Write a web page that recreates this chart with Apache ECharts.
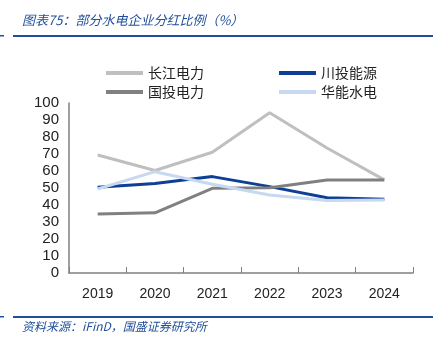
<!DOCTYPE html>
<html>
<head>
<meta charset="utf-8">
<script src="https://cdn.jsdelivr.net/npm/echarts@6/dist/echarts.min.js"></script>
<style>
html,body{margin:0;padding:0;background:#fff;}
#main{width:442px;height:352px;}
</style>
</head>
<body>
<div id="main"></div>
<script>
// 部分水电企业分红比例（%）
var years = ['2019', '2020', '2021', '2022', '2023', '2024'];
var cjdl = [69.4, 60.3, 71, 94.3, 73.5, 54.8];   // 长江电力
var ctny = [50.4, 52.7, 56.7, 50.8, 44.3, 43.4]; // 川投能源
var gtdl = [34.7, 35.4, 49.8, 50.2, 54.7, 54.7]; // 国投电力
var hnsd = [49.4, 59.6, 52.2, 45.9, 42.6, 43.0]; // 华能水电
var yTicks = [0, 10, 20, 30, 40, 50, 60, 70, 80, 90, 100];

var blue = '#1F4E9A';
var myChart = echarts.init(document.getElementById('main'));

function mkSeries(name, data, color){
	return {
		name: name,
		type: 'line',
		data: data,
		symbol: 'none',
		lineStyle: {width: 3, color: color},
		itemStyle: {color: color},
		z: 2
	};
}

var legendText = {fontSize: 14, color: '#222', fontFamily: 'Noto Sans CJK SC'};

var option = {
	animation: false,
	backgroundColor: '#fff',
	grid: {left: 69, right: 29, top: 103, bottom: 79},
	legend: [{
		left: 101, top: 61, orient: 'vertical', itemGap: 5,
		itemWidth: 37, itemHeight: 4,
		icon: 'rect',
		textStyle: legendText,
		data: ['长江电力', '国投电力']
	}, {
		left: 274, top: 61, orient: 'vertical', itemGap: 5,
		itemWidth: 37, itemHeight: 4,
		icon: 'rect',
		textStyle: legendText,
		data: ['川投能源', '华能水电']
	}],
	xAxis: {
		type: 'category',
		data: years,
		boundaryGap: true,
		axisLine: {lineStyle: {color: '#808080', width: 1.5}},
		axisTick: {show: true, inside: true, length: 6, lineStyle: {color: '#808080'}},
		axisLabel: {fontSize: 14, color: '#222', margin: 14, fontFamily: 'Liberation Sans'}
	},
	yAxis: {
		type: 'value',
		min: yTicks[0], max: yTicks[yTicks.length - 1], interval: 10,
		axisLine: {show: true, lineStyle: {color: '#808080', width: 1.5}},
		axisTick: {show: false},
		splitLine: {show: false},
		axisLabel: {fontSize: 15, color: '#222', margin: 10, fontFamily: 'Liberation Sans'}
	},
	graphic: [
		{type: 'text', left: 22, top: 14, style: {text: '图表75：部分水电企业分红比例（%）', fill: blue, font: 'italic 13px "Noto Sans CJK SC"'}},
		{type: 'rect', shape: {x: 0, y: 35, width: 4, height: 1.5}, style: {fill: blue}},
		{type: 'rect', shape: {x: 13, y: 35, width: 420, height: 2}, style: {fill: blue}},
		{type: 'rect', shape: {x: 0, y: 316, width: 4, height: 1.5}, style: {fill: blue}},
		{type: 'rect', shape: {x: 13, y: 316, width: 420, height: 2}, style: {fill: blue}},
		{type: 'text', left: 22, top: 320, style: {text: '资料来源：iFinD，国盛证券研究所', fill: blue, font: 'italic 12px "Noto Sans CJK SC"'}}
	],
	series: [
		mkSeries('长江电力', cjdl, '#BFBFBF'),
		mkSeries('川投能源', ctny, '#0D3F94'),
		mkSeries('国投电力', gtdl, '#808080'),
		mkSeries('华能水电', hnsd, '#C6D9F1')
	]
};
myChart.setOption(option, true);
</script>
</body>
</html>
